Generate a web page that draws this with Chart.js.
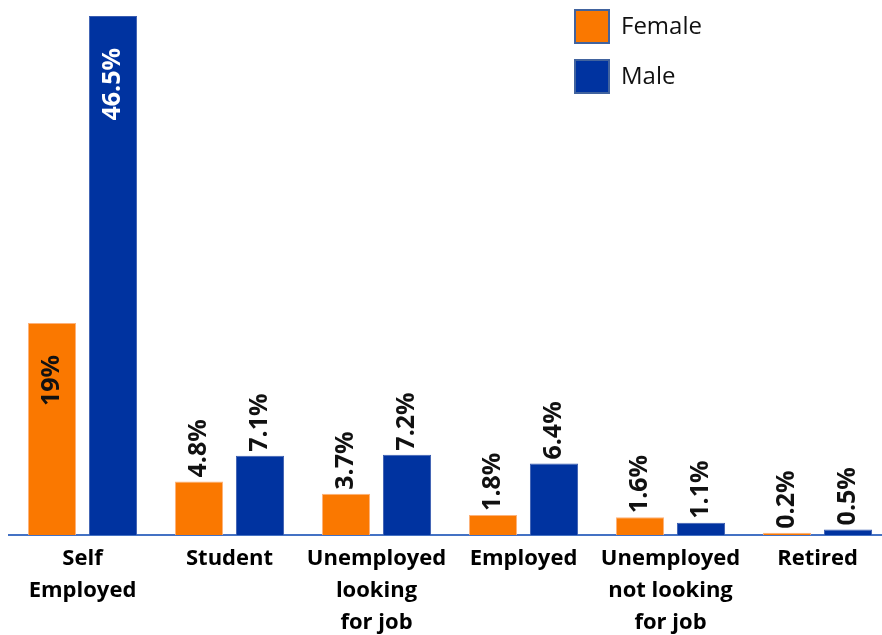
<!DOCTYPE html>
<html>
<head>
<meta charset="utf-8">
<title>Occupation by gender</title>
<script src="https://cdn.jsdelivr.net/npm/chart.js@4"></script>
<style>
  html, body { margin: 0; padding: 0; background: #fff; overflow: hidden; }
  #wrap { position: relative; width: 891px; height: 635px; }
</style>
</head>
<body>
<div id="wrap"><canvas id="barChart"></canvas></div>
<script>
const categories = [
    ['Self', 'Employed'],
    'Student',
    ['Unemployed', 'looking', 'for job'],
    'Employed',
    ['Unemployed', 'not looking', 'for job'],
    'Retired'
]
const female = [19, 4.8, 3.7, 1.8, 1.6, 0.2]
const male = [46.5, 7.1, 7.2, 6.4, 1.1, 0.5]

const ORANGE = '#FA7800'
const BLUE = '#0033A0'

// value labels, rotated; the tall bars get theirs inside the bar
const barLabels = {
    id: 'barLabels',
    afterDatasetsDraw(chart) {
        const ctx = chart.ctx
        chart.data.datasets.forEach(function (ds, i) {
            chart.getDatasetMeta(i).data.forEach(function (bar, j) {
                const v = ds.data[j]
                const inside = v > 15
                ctx.save()
                ctx.translate(bar.x, inside ? bar.y + 32 : bar.y - 4)
                ctx.rotate(-Math.PI / 2)
                ctx.font = 'bold 25px "Open Sans"'
                ctx.textBaseline = 'middle'
                ctx.textAlign = inside ? 'right' : 'left'
                ctx.fillStyle = (inside && i === 1) ? '#ffffff' : '#111111'
                ctx.fillText(v + '%', 0, 0)
                ctx.restore()
            })
        })
    }
}

// legend boxes in the top right corner
const boxLegend = {
    id: 'boxLegend',
    afterDraw(chart) {
        const ctx = chart.ctx
        chart.data.datasets.forEach(function (ds, i) {
            const y = 10 + i * 50
            ctx.save()
            ctx.fillStyle = ds.backgroundColor
            ctx.fillRect(575, y, 34, 33)
            ctx.strokeStyle = '#41639E'
            ctx.lineWidth = 2
            ctx.strokeRect(575, y, 34, 33)
            ctx.fillStyle = '#111111'
            ctx.font = '24px "Open Sans"'
            ctx.textBaseline = 'middle'
            ctx.textAlign = 'left'
            ctx.fillText(ds.label, 621, y + 17)
            ctx.restore()
        })
    }
}

var ctxB = document.getElementById('barChart').getContext('2d')
var myBarChart = new Chart(ctxB, {
    type: 'bar',
    data: {
        labels: categories,
        datasets: [{
            label: 'Female',
            data: female,
            backgroundColor: ORANGE,
            borderColor: '#FDB27A',
            borderWidth: 1
        },
        {
            label: 'Male',
            data: male,
            backgroundColor: BLUE,
            borderColor: '#3A5DB0',
            borderWidth: 1
        }]
    },
    options: {
        responsive: true,
        maintainAspectRatio: false,
        animation: false,
        layout: { padding: { left: 9, right: 0, top: 16, bottom: 0 } },
        datasets: {
            bar: { categoryPercentage: 0.83, barPercentage: 0.79 }
        },
        plugins: {
            legend: { display: false },
            tooltip: { enabled: false }
        },
        scales: {
            x: {
                grid: { display: false },
                border: { display: true, color: '#4472C4', width: 2 },
                ticks: {
                    color: '#000000',
                    padding: 0,
                    maxRotation: 0,
                    autoSkip: false,
                    font: { family: '"Open Sans"', size: 22, weight: 'bold', lineHeight: '32px' }
                },
                afterFit: function (scale) { scale.height = 100 }
            },
            y: {
                display: false,
                min: 0,
                max: 46.5
            }
        }
    },
    plugins: [barLabels, boxLegend]
});
</script>
</body>
</html>
